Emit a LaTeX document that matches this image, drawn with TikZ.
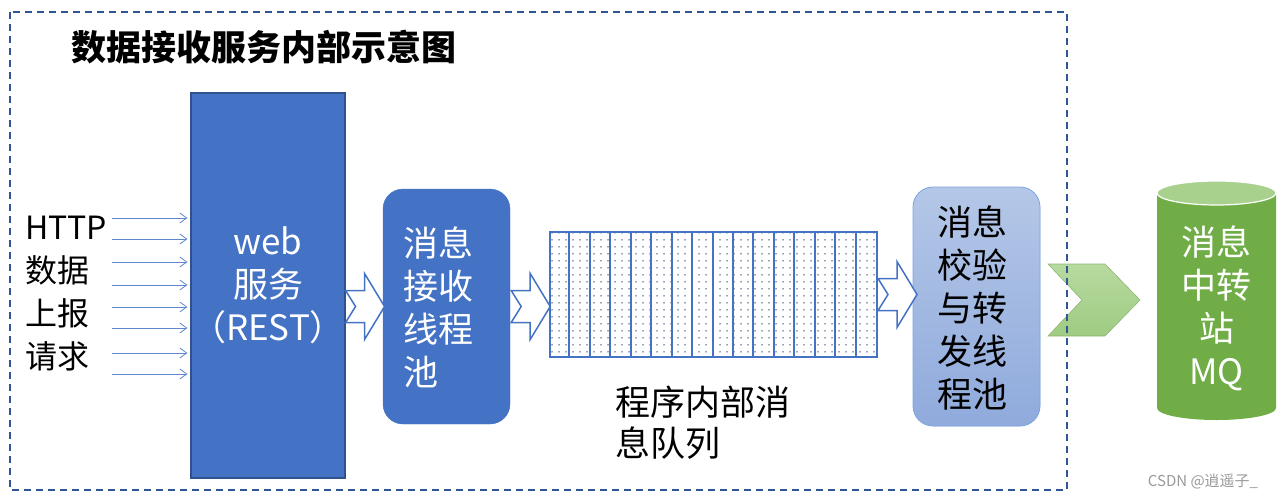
\documentclass[tikz,border=0pt]{standalone}
\usepackage{fontspec}
\setmainfont{Noto Sans CJK SC}
\usetikzlibrary{arrows.meta,calc,patterns.meta}

\definecolor{mainblue}{HTML}{4472C4}
\definecolor{edgeblue}{HTML}{2F528F}
\definecolor{dashblue}{HTML}{2F5597}
\definecolor{paleblue}{HTML}{B4C7E7}
\definecolor{midblue}{HTML}{8FAADC}
\definecolor{lineblue}{HTML}{7EA6E0}
\definecolor{mqgreen}{HTML}{70AD47}
\definecolor{mqtop}{HTML}{A9D18E}
\definecolor{chevtop}{HTML}{B7DAA0}
\definecolor{chevbot}{HTML}{9FCB82}
\definecolor{dotgray}{HTML}{2F3F5F}

\newcommand\bigtext{\fontsize{35}{43}\selectfont}

\tikzset{
  bluebox/.style={draw=edgeblue, line width=1.2pt, fill=mainblue, inner sep=0pt},
  poolbox/.style={fill=mainblue, draw=mainblue, rounded corners=20pt, inner sep=0pt,
    minimum width=127pt, minimum height=235pt},
  whitetext/.style={text=white, font=\bigtext, inner sep=0pt},
  blacktext/.style={text=black, font=\bigtext, inner sep=0pt},
  inarrow/.style={draw=mainblue!85!white, line width=0.8pt,
    -{Straight Barb[length=7pt,width=10pt]}, shorten >=3pt},
  cellline/.style={draw=mainblue, line width=2pt},
  pics/notcharrow/.style={code={
    \draw[draw=mainblue, line width=1.5pt, fill=white, line join=miter]
      (0,-16) -- (19,-16) -- (19,-33) -- (39,0) -- (19,33) -- (19,16)
      -- (0,16) -- (10,0) -- cycle;}}
}

\begin{document}
\begin{tikzpicture}[x=1pt, y=-1pt]
  \useasboundingbox (0,0) rectangle (1285,501);

  % title
  \node[anchor=west, inner sep=0pt, font=\fontsize{35}{40}\selectfont\bfseries] (title)
    at (71,47) {数据接收服务内部示意图};

  % web service
  \node[bluebox, minimum width=148pt, minimum height=385pt, whitetext,
    align=center] (web) at (268,285.5) {web\\服务\\（REST）};

  % incoming requests
  \node[blacktext, anchor=west, align=left, font=\fontsize{32}{43}\selectfont] (req)
    at (25,294) {HTTP\\数据\\上报\\请求};
  \foreach \y [count=\i] in {218,239,262,285,307,328,353,374}{
    \coordinate (in\i) at (112,\y);
    \draw[inarrow] (in\i) -- (in\i -| web.west);
  }

  % receive thread pool
  \node[poolbox] (recv) at (446.5,306.5) {};
  \node[whitetext, align=left] (recvtext) at (438,307) {消息\\接收\\线程\\池};
  \pic at (web.east |- recv.center) {notcharrow};

  % internal queue
  \node[cellline, pattern={Dots[distance=6.5pt, radius=0.8pt]}, pattern color=dotgray,
    minimum width=327pt, minimum height=125pt, inner sep=0pt] (queue) at (713.5,294.5) {};
  \foreach \i in {1,...,15}
    \draw[cellline] ($(queue.north west)+(\i*20.44,0)$) -- ($(queue.south west)+(\i*20.44,0)$);
  \node[blacktext, anchor=west, align=left, font=\fontsize{35}{41}\selectfont] (qlabel)
    at (615,423) {程序内部消\\息队列};
  \pic at ($(recv.east)+(1,0)$) {notcharrow};

  % check and forward thread pool
  \node[poolbox, draw=lineblue, line width=0.8pt, top color=paleblue, bottom color=midblue,
    minimum height=239pt] (fwd) at (976.5,306.5) {};
  \node[blacktext, align=center] (fwdtext) at (972,307.5) {消息\\校验\\与转\\发线\\程池};
  \pic at (queue.east) {notcharrow};

  % green chevron
  \draw[draw=chevbot!90!black, line width=0.6pt, top color=chevtop, bottom color=chevbot]
    (1048,264) -- (1105,264) -- (1140,300) -- (1105,336) -- (1048,336) -- (1082,300) -- cycle;

  % message broker
  \fill[mqgreen] (1157,193) -- (1157,408) arc[start angle=180, end angle=0,
    x radius=59.5, y radius=12] -- (1276,193) -- cycle;
  \filldraw[fill=mqtop, draw=white, line width=1.2pt] (1216.5,193) ellipse [x radius=59.5, y radius=12];
  \node[whitetext, align=center] (mq) at (1216.5,308.5) {消息\\中转\\站\\MQ};

  % dashed frame
  \draw[draw=dashblue, line width=1.8pt, dash pattern=on 7pt off 5pt] (10,12) rectangle (1067,490);

  % watermark
  \node[text=gray!80, font=\fontsize{15}{15}\selectfont, inner sep=0pt] (mark)
    at (1203,481) {CSDN @逍遥子\_};
\end{tikzpicture}
\end{document}
